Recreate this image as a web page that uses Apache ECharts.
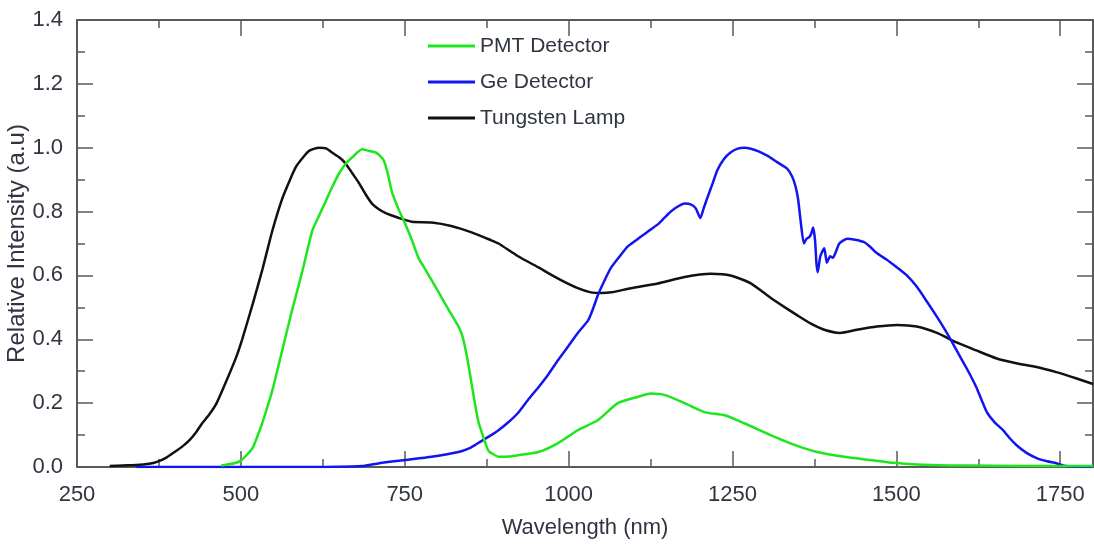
<!DOCTYPE html>
<html>
<head>
<meta charset="utf-8">
<script src="https://cdn.jsdelivr.net/npm/echarts@6/dist/echarts.min.js"></script>
<style>
  html, body { margin: 0; padding: 0; background: #fff; }
  #chart { width: 1094px; height: 554px; }
</style>
</head>
<body>
<div id="chart"></div>
<script>
// Normalised spectral response curves: [wavelength (nm), relative intensity]
const pmtDetector = [
  [470,0.005],[490,0.012],[500,0.02],[510,0.04],[518,0.06],[525,0.095],[533,0.14],[548,0.24],
  [563,0.365],[578,0.49],[594,0.615],[609,0.74],[620,0.79],[630,0.835],[640,0.88],[650,0.92],
  [660,0.95],[670,0.97],[685,0.995],[695,0.99],[706,0.985],[712,0.975],[718,0.96],[724,0.92],
  [730,0.865],[740,0.81],[751,0.76],[761,0.71],[771,0.655],[781,0.62],[791,0.585],[801,0.55],
  [812,0.51],[822,0.475],[832,0.44],[838,0.41],[843,0.365],[848,0.31],[852,0.26],[857,0.2],
  [862,0.145],[868,0.105],[873,0.075],[878,0.05],[885,0.04],[893,0.032],[910,0.033],[923,0.037],
  [954,0.047],[984,0.075],[1014,0.115],[1045,0.147],[1075,0.2],[1106,0.22],[1125,0.23],[1147,0.225],
  [1177,0.2],[1207,0.172],[1238,0.162],[1268,0.137],[1308,0.1],[1349,0.066],[1379,0.047],[1420,0.032],
  [1460,0.022],[1496,0.013],[1531,0.008],[1580,0.005],[1650,0.004],[1750,0.003],[1800,0.003]
];

const geDetector = [
  [340,0],[600,0],[685,0.003],[711,0.012],[751,0.022],[791,0.032],[832,0.047],[850,0.06],
  [862,0.075],[882,0.1],[893,0.115],[908,0.14],[923,0.17],[938,0.21],[954,0.25],[969,0.29],
  [984,0.335],[1000,0.38],[1014,0.42],[1030,0.46],[1038,0.5],[1045,0.54],[1055,0.585],[1065,0.625],
  [1078,0.66],[1090,0.69],[1103,0.71],[1116,0.73],[1126,0.745],[1136,0.76],[1146,0.78],[1156,0.8],
  [1166,0.815],[1177,0.825],[1187,0.822],[1194,0.81],[1201,0.78],[1206,0.81],[1212,0.845],[1220,0.89],
  [1227,0.93],[1237,0.965],[1247,0.985],[1258,0.997],[1268,1.0],[1278,0.997],[1288,0.99],[1303,0.975],
  [1318,0.955],[1333,0.935],[1341,0.91],[1346,0.88],[1350,0.84],[1354,0.77],[1359,0.7],[1363,0.715],
  [1367,0.72],[1370,0.73],[1373,0.75],[1376,0.71],[1378,0.64],[1380,0.61],[1384,0.66],[1390,0.685],
  [1394,0.64],[1399,0.66],[1403,0.655],[1407,0.67],[1413,0.7],[1425,0.715],[1437,0.712],[1450,0.705],
  [1460,0.69],[1470,0.67],[1485,0.65],[1501,0.625],[1516,0.6],[1531,0.565],[1546,0.52],[1562,0.47],
  [1577,0.42],[1592,0.365],[1607,0.31],[1622,0.25],[1630,0.21],[1638,0.172],[1650,0.14],[1663,0.115],
  [1673,0.09],[1683,0.069],[1698,0.045],[1714,0.028],[1730,0.018],[1744,0.012],[1759,0.003],
  [1775,0],[1800,0]
];

const tungstenLamp = [
  [300,0.003],[320,0.005],[341,0.006],[360,0.01],[372,0.016],[385,0.028],[396,0.043],[410,0.063],
  [422,0.085],[432,0.11],[441,0.137],[452,0.165],[463,0.2],[478,0.27],[493,0.345],[502,0.4],
  [518,0.51],[533,0.62],[548,0.74],[563,0.84],[575,0.9],[584,0.94],[595,0.97],[604,0.99],
  [619,1.0],[630,0.998],[639,0.985],[650,0.97],[660,0.95],[670,0.92],[680,0.89],[690,0.855],
  [700,0.825],[710,0.808],[721,0.795],[741,0.78],[761,0.768],[791,0.766],[821,0.755],[852,0.735],
  [882,0.71],[893,0.7],[923,0.66],[954,0.625],[984,0.59],[1014,0.56],[1034,0.547],[1050,0.545],
  [1065,0.547],[1095,0.56],[1136,0.575],[1177,0.595],[1217,0.605],[1247,0.6],[1278,0.575],[1308,0.53],
  [1330,0.5],[1349,0.475],[1369,0.45],[1390,0.43],[1414,0.42],[1440,0.43],[1470,0.44],[1501,0.445],
  [1531,0.44],[1562,0.42],[1592,0.39],[1622,0.365],[1653,0.34],[1683,0.325],[1714,0.313],[1744,0.297],
  [1774,0.278],[1800,0.26]
];

const seriesNames = ['PMT Detector', 'Ge Detector', 'Tungsten Lamp'];
const seriesColors = ['#1ee61e', '#1414f0', '#111111'];
const xAxisName = 'Wavelength (nm)';
const yAxisName = 'Relative Intensity (a.u)';

const FONT = "'Liberation Sans', Arial, sans-serif";
const AXIS_GREY = '#5a5a5a';
const LABEL_COLOR = '#2f3540';

const tickCommon = {
  axisLine: { show: true, onZero: false, lineStyle: { color: AXIS_GREY, width: 2 } },
  axisTick: { show: true, inside: true, length: 16, lineStyle: { color: AXIS_GREY, width: 1.5 } },
  minorTick: { show: true, splitNumber: 2, length: 8, lineStyle: { color: AXIS_GREY, width: 1.5 } },
  splitLine: { show: false }
};

const chart = echarts.init(document.getElementById('chart'), null, { renderer: 'canvas' });

chart.setOption({
  backgroundColor: '#fff',
  animation: false,
  grid: { left: 77, right: 1, top: 20, bottom: 87, containLabel: false, outerBoundsMode: 'none' },
  legend: {
    orient: 'vertical',
    left: 423,
    top: 29,
    icon: 'rect',
    itemWidth: 47,
    itemHeight: 3,
    itemGap: 12,
    data: seriesNames,
    textStyle: { fontFamily: FONT, fontSize: 21, color: LABEL_COLOR, lineHeight: 24 }
  },
  xAxis: [
    Object.assign({
      type: 'value', position: 'bottom', min: 250, max: 1800, interval: 250,
      name: xAxisName, nameLocation: 'middle', nameGap: 50, nameMoveOverlap: false,
      nameTextStyle: { fontFamily: FONT, fontSize: 22, color: LABEL_COLOR },
      axisLabel: { fontFamily: FONT, fontSize: 22, color: LABEL_COLOR, margin: 17,
        showMaxLabel: false, formatter: v => String(v) }
    }, tickCommon),
    Object.assign({
      type: 'value', position: 'top', min: 250, max: 1800, interval: 250,
      axisLabel: { show: false }
    }, tickCommon)
  ],
  yAxis: [
    Object.assign({
      type: 'value', position: 'left', min: 0, max: 1.4, interval: 0.2,
      name: yAxisName, nameLocation: 'middle', nameGap: 48, nameRotate: 90, nameMoveOverlap: false,
      nameTextStyle: { fontFamily: FONT, fontSize: 24, color: LABEL_COLOR },
      axisLabel: { fontFamily: FONT, fontSize: 22, color: LABEL_COLOR, margin: 14,
        formatter: v => v.toFixed(1) }
    }, tickCommon),
    Object.assign({
      type: 'value', position: 'right', min: 0, max: 1.4, interval: 0.2,
      axisLabel: { show: false }
    }, tickCommon)
  ],
  series: [
    { name: seriesNames[0], data: pmtDetector },
    { name: seriesNames[1], data: geDetector },
    { name: seriesNames[2], data: tungstenLamp }
  ].map((s, i) => ({
    type: 'line',
    name: s.name,
    data: s.data,
    xAxisIndex: 0,
    yAxisIndex: 0,
    showSymbol: false,
    symbol: 'none',
    smooth: 0.2,
    color: seriesColors[i],
    lineStyle: { color: seriesColors[i], width: 2.5 },
    z: 3 - i
  }))
});
</script>
</body>
</html>
